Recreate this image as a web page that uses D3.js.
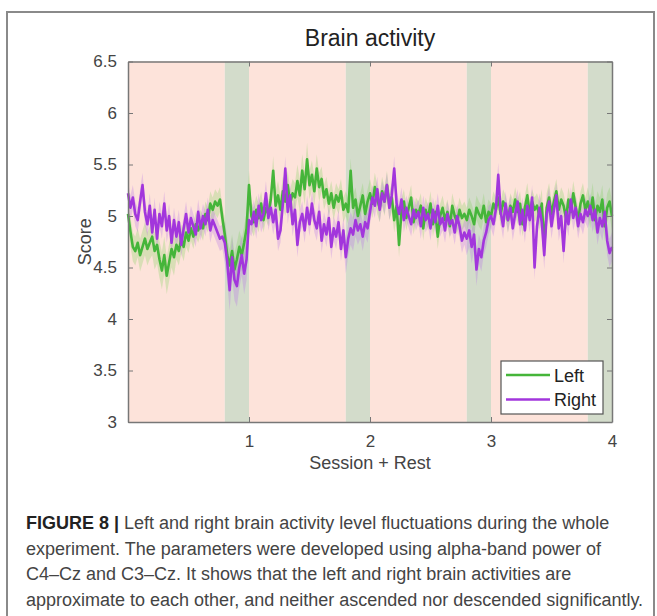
<!DOCTYPE html>
<html>
<head>
<meta charset="utf-8">
<script src="https://cdn.jsdelivr.net/npm/d3@7"></script>
<style>
  body { margin: 0; background: #fff; }
  svg text { font-family: "Liberation Sans", Arial, sans-serif; }
</style>
</head>
<body>
<div id="chart"></div>
<script>
// x positions run 0..4 in steps of 0.02 (session + rest)
const xStep = 0.02;

const leftScore = [
  5.02, 4.85, 4.70, 4.66, 4.74, 4.62, 4.70, 4.78, 4.68, 4.74,
  4.80, 4.66, 4.72, 4.58, 4.47, 4.62, 4.42, 4.55, 4.68, 4.60,
  4.72, 4.66, 4.78, 4.70, 4.84, 4.76, 4.88, 4.80, 4.92, 4.86,
  4.94, 4.88, 5.02, 4.96, 5.12, 5.06, 5.14, 5.10, 5.16, 4.98,
  4.82, 4.62, 4.52, 4.66, 4.48, 4.58, 4.70, 4.62, 4.74, 4.88,
  5.30, 5.00, 4.94, 5.06, 4.98, 5.12, 4.96, 5.08, 5.02, 5.16,
  5.44, 5.10, 5.20, 5.06, 5.24, 5.14, 5.30, 5.12, 5.22, 5.18,
  5.34, 5.20, 5.44, 5.26, 5.55, 5.30, 5.40, 5.24, 5.46, 5.28,
  5.36, 5.18, 5.26, 5.12, 5.22, 5.08, 5.20, 5.14, 5.24, 5.06,
  5.12, 5.04, 5.44, 5.08, 5.16, 5.00, 5.10, 5.20, 5.02, 5.14,
  5.22, 5.12, 5.28, 5.16, 5.08, 5.24, 5.14, 5.30, 5.10, 5.18,
  4.96, 5.10, 4.72, 5.04, 5.14, 4.98, 5.08, 5.18, 4.94, 5.06,
  5.02, 5.10, 4.88, 5.06, 4.98, 5.12, 4.92, 5.04, 4.80, 5.00,
  5.08, 4.96, 5.04, 4.90, 5.10, 5.00, 4.94, 5.06, 4.98, 5.02,
  4.96, 5.06, 5.00, 4.92, 5.08, 5.02, 4.98, 5.10, 4.94, 5.04,
  5.00, 5.12, 5.06, 5.18, 5.02, 5.14, 5.08, 4.96, 5.10, 5.04,
  5.16, 5.04, 5.12, 4.92, 5.08, 5.20, 5.02, 5.14, 5.06, 5.10,
  5.00, 5.12, 4.70, 5.08, 5.18, 5.02, 5.14, 5.24, 5.06, 5.16,
  5.10, 4.98, 5.16, 5.04, 5.22, 5.08, 4.96, 5.12, 5.20, 5.06,
  5.14, 5.02, 5.18, 4.96, 5.10, 5.04, 5.16, 4.90, 5.08, 5.14,
  5.00
];

const rightScore = [
  5.22, 5.08, 5.18, 5.02, 4.96, 5.14, 5.30, 5.04, 4.92, 5.10,
  4.84, 5.06, 4.78, 5.02, 4.90, 5.12, 4.86, 5.00, 4.74, 4.96,
  4.80, 4.94, 4.72, 4.88, 5.02, 4.84, 4.98, 4.90, 4.82, 5.04,
  4.88, 5.00, 4.92, 5.06, 4.86, 4.96, 4.90, 4.84, 4.78, 4.80,
  4.74, 4.56, 4.28, 4.60, 4.38, 4.32, 4.50, 4.62, 4.44, 4.58,
  4.96, 4.92, 5.04, 4.90, 5.10, 4.96, 5.02, 5.22, 4.98, 5.08,
  4.94, 5.06, 4.78, 4.86, 5.12, 5.46, 5.04, 5.20, 4.92, 5.06,
  4.72, 4.94, 5.02, 4.86, 5.08, 4.92, 5.12, 4.96, 4.88, 5.04,
  4.76, 4.92, 4.82, 4.98, 4.70, 4.88, 4.80, 4.94, 4.68, 4.86,
  4.60, 4.78, 4.88, 4.82, 4.96, 4.86, 4.92, 4.80, 4.94, 4.88,
  5.04, 5.18, 5.10, 5.26, 5.06, 5.22, 5.14, 5.30, 5.08, 5.20,
  5.46, 5.12, 5.02, 5.16, 4.96, 5.08, 5.00, 4.92, 5.06, 4.98,
  5.04, 4.90, 5.08, 4.96, 5.02, 4.88, 5.06, 4.94, 5.10, 4.92,
  4.98, 4.86, 5.02, 4.92, 4.96, 4.84, 5.00, 4.90, 4.76, 4.84,
  4.78, 4.86, 4.70, 4.82, 4.48, 4.68, 4.60, 4.76, 4.84, 4.96,
  5.00, 4.92, 5.06, 5.40, 5.04, 4.90, 5.12, 4.96, 5.08, 4.88,
  5.02, 5.14, 4.92, 5.06, 4.86, 5.10, 4.96, 5.18, 4.50, 4.90,
  5.08, 4.94, 4.62, 5.02, 5.14, 4.90, 5.06, 5.20, 4.88, 5.00,
  4.66, 5.04, 4.92, 5.16, 4.98, 5.08, 4.90, 5.02, 4.94, 5.06,
  5.00, 5.10, 4.96, 5.06, 4.84, 4.98, 4.90, 5.04, 4.76, 4.64,
  4.70
];

// spread of the shaded band, one value per 0.1 of the x axis
const leftSpread = [
  0.14, 0.16, 0.18, 0.18, 0.14, 0.12, 0.12, 0.12, 0.16, 0.16,
  0.14, 0.12, 0.14, 0.14, 0.16, 0.14, 0.12, 0.12, 0.12, 0.12,
  0.14, 0.14, 0.12, 0.12, 0.12, 0.12, 0.12, 0.12, 0.12, 0.12,
  0.12, 0.12, 0.12, 0.12, 0.14, 0.12, 0.12, 0.12, 0.14, 0.14
];
const rightSpread = [
  0.12, 0.12, 0.12, 0.12, 0.12, 0.12, 0.12, 0.12, 0.20, 0.20,
  0.12, 0.12, 0.12, 0.12, 0.12, 0.12, 0.12, 0.12, 0.16, 0.14,
  0.12, 0.12, 0.12, 0.12, 0.12, 0.12, 0.12, 0.12, 0.16, 0.14,
  0.12, 0.12, 0.12, 0.12, 0.14, 0.12, 0.12, 0.12, 0.12, 0.14
];

// session blocks (pink) and rest blocks (green)
const sessionBlocks = [[0, 0.8], [1, 1.8], [2, 2.8], [3, 3.8]];
const restBlocks = [[0.8, 1], [1.8, 2], [2.8, 3], [3.8, 4]];

const xTicks = [1, 2, 3, 4];
const yTicks = [3, 3.5, 4, 4.5, 5, 5.5, 6, 6.5];

const captionLines = [
  ['FIGURE 8 | ', 'Left and right brain activity level fluctuations during the whole'],
  ['', 'experiment. The parameters were developed using alpha-band power of'],
  ['', 'C4\u2013Cz and C3\u2013Cz. It shows that the left and right brain activities are'],
  ['', 'approximate to each other, and neither ascended nor descended significantly.']
];

const W = 657, H = 616;
const plot = {left: 128, right: 612, top: 61.5, bottom: 422};

const svg = d3.select('#chart').append('svg')
  .attr('width', W).attr('height', H);

// outer frame of the figure
svg.append('path')
  .attr('d', `M7,${H + 5} V12 H654 V${H + 5}`)
  .attr('fill', 'none').attr('stroke', '#8a8a8a').attr('stroke-width', 2);

const x = d3.scaleLinear().domain([0, 4]).range([plot.left, plot.right]);
const y = d3.scaleLinear().domain([3, 6.5]).range([plot.bottom, plot.top]);

// background blocks
svg.append('g').selectAll('rect').data(sessionBlocks).enter().append('rect')
  .attr('x', d => x(d[0])).attr('width', d => x(d[1]) - x(d[0]))
  .attr('y', plot.top).attr('height', plot.bottom - plot.top)
  .attr('fill', '#fde3da');
svg.append('g').selectAll('rect').data(restBlocks).enter().append('rect')
  .attr('x', d => x(d[0])).attr('width', d => x(d[1]) - x(d[0]))
  .attr('y', plot.top).attr('height', plot.bottom - plot.top)
  .attr('fill', '#d3dccb');

const series = [
  {name: 'Left', values: leftScore, spread: leftSpread, color: '#45b53a', shade: '#7ccf5a'},
  {name: 'Right', values: rightScore, spread: rightSpread, color: '#a236dc', shade: '#b46ae8'}
];

const bandArea = s => d3.area()
  .x((d, i) => x(i * xStep))
  .y0((d, i) => y(d - s.spread[Math.min(39, Math.floor(i / 5))]))
  .y1((d, i) => y(d + s.spread[Math.min(39, Math.floor(i / 5))]));

const line = d3.line().x((d, i) => x(i * xStep)).y(d => y(d));

// shaded bands first, then the mean lines
series.forEach(s => {
  svg.append('path').datum(s.values)
    .attr('d', bandArea(s))
    .attr('fill', s.shade).attr('fill-opacity', 0.28);
});
series.forEach(s => {
  svg.append('path').datum(s.values)
    .attr('d', line)
    .attr('fill', 'none').attr('stroke', s.color)
    .attr('stroke-width', 2.6).attr('stroke-linejoin', 'round');
});

// axes, MATLAB style box with inward ticks
const axisColor = '#777';
const tickColor = '#444';
const bottomAxis = svg.append('g')
  .attr('transform', `translate(0,${plot.bottom})`)
  .call(d3.axisBottom(x).tickValues(xTicks).tickFormat(d3.format('d'))
    .tickSizeInner(-5).tickSizeOuter(0).tickPadding(13));
const topAxis = svg.append('g')
  .attr('transform', `translate(0,${plot.top})`)
  .call(d3.axisTop(x).tickValues(xTicks).tickFormat('')
    .tickSizeInner(-5).tickSizeOuter(0));
const leftAxis = svg.append('g')
  .attr('transform', `translate(${plot.left},0)`)
  .call(d3.axisLeft(y).tickValues(yTicks).tickFormat(d => d)
    .tickSizeInner(-5).tickSizeOuter(0).tickPadding(11));
const rightAxis = svg.append('g')
  .attr('transform', `translate(${plot.right},0)`)
  .call(d3.axisRight(y).tickValues(yTicks).tickFormat('')
    .tickSizeInner(-5).tickSizeOuter(0));

[bottomAxis, topAxis, leftAxis, rightAxis].forEach(g => {
  g.select('.domain').attr('stroke', axisColor).attr('stroke-width', 1.5);
  g.selectAll('.tick line').attr('stroke', axisColor);
  g.selectAll('text').attr('font-size', 17).attr('fill', tickColor)
    .attr('font-family', '"Liberation Sans", Arial, sans-serif');
});

// title and axis labels
svg.append('text')
  .attr('x', (plot.left + plot.right) / 2).attr('y', 46)
  .attr('text-anchor', 'middle').attr('font-size', 23).attr('fill', '#222')
  .text('Brain activity');
svg.append('text')
  .attr('x', (plot.left + plot.right) / 2).attr('y', 469)
  .attr('text-anchor', 'middle').attr('font-size', 18).attr('fill', tickColor)
  .text('Session + Rest');
svg.append('text')
  .attr('transform', `translate(91,${(plot.top + plot.bottom) / 2}) rotate(-90)`)
  .attr('text-anchor', 'middle').attr('font-size', 18).attr('fill', tickColor)
  .text('Score');

// legend
const legend = svg.append('g').attr('transform', 'translate(501,361)');
legend.append('rect')
  .attr('width', 102).attr('height', 53)
  .attr('fill', '#fff').attr('stroke', '#555').attr('stroke-width', 1.2);
const legendItems = legend.selectAll('g.item').data(series).enter().append('g')
  .attr('class', 'item')
  .attr('transform', (d, i) => `translate(0,${14 + i * 24.5})`);
legendItems.append('line')
  .attr('x1', 5).attr('x2', 49)
  .attr('stroke', d => d.color).attr('stroke-width', 2.4);
legendItems.append('text')
  .attr('x', 53).attr('y', 6.5).attr('font-size', 18).attr('fill', '#222')
  .text(d => d.name);

// caption
const caption = svg.append('g');
captionLines.forEach((parts, i) => {
  const t = caption.append('text')
    .attr('x', 26).attr('y', 529 + i * 25.7)
    .attr('font-size', 18).attr('fill', '#444');
  if (parts[0]) t.append('tspan').attr('font-weight', 'bold').attr('fill', '#222').text(parts[0]);
  t.append('tspan').text(parts[1]);
});
</script>
</body>
</html>
